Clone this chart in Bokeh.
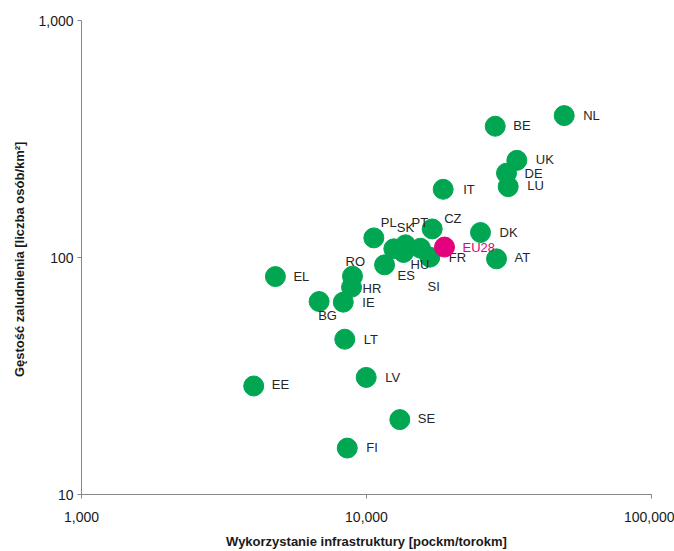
from bokeh.plotting import figure
from bokeh.models import ColumnDataSource, FixedTicker, NumeralTickFormatter
from bokeh.embed import file_html
from bokeh.resources import INLINE
from bokeh.core.properties import value

# Rail infrastructure use vs. population density, EU member states (log-log)
countries = ["NL", "BE", "UK", "DE", "LU", "IT", "CZ", "DK", "AT", "PL",
             "SK", "PT", "HU", "SI", "FR", "ES", "RO", "HR", "IE", "BG",
             "EL", "LT", "EE", "LV", "SE", "FI"]
usage = [49400, 28290, 33690, 30990, 31420, 18580, 17000, 25120, 28590, 10610,
         12470, 13710, 13490, 15470, 16680, 11570, 8930, 8860, 8290, 6820,
         4790, 8390, 4020, 9975, 13090, 8560]
density = [397, 358, 257, 227, 199, 194, 132, 127.5, 98.7, 121,
           108.8, 113.1, 105, 109.4, 100.3, 93.1, 83.4, 74.9, 64.8, 65.2,
           83.1, 45.2, 28.7, 31.2, 20.7, 15.7]

eu_label = ["EU28"]
eu_usage = [18780]
eu_density = [110.7]

x_ticks = [1000, 10000, 100000]
y_ticks = [10, 100, 1000]

# label placement (screen pixels, relative to the marker centre)
label_shift = {
    "NL": (19, 0), "BE": (18, -1), "UK": (19, -1), "DE": (18, 0), "LU": (19, -1),
    "IT": (20, 0), "CZ": (12, -10), "DK": (19, 0), "AT": (18, -1), "PL": (7, -15),
    "SK": (3, -21), "PT": (6, -22), "HU": (7, 12), "SI": (7, 38), "FR": (19, 0),
    "ES": (13, 11), "RO": (-7, -15), "HR": (11, 1), "IE": (19, 0), "BG": (-1, 14),
    "EL": (18, 0), "LT": (19, 0), "EE": (18, -1), "LV": (19, 0), "SE": (18, -1),
    "FI": (19, -1),
}

GREEN = "#00A651"
MAGENTA = "#E5007E"
AXIS = "#868686"
FONT = "Liberation Sans, Arial, sans-serif"

p = figure(width=674, height=551, x_axis_type="log", y_axis_type="log",
           x_range=(1000, 100000), y_range=(10, 1000),
           output_backend="svg", toolbar_location=None,
           min_border_left=81, min_border_right=23,
           min_border_top=20, min_border_bottom=56)
p.outline_line_color = None
p.xgrid.visible = False
p.ygrid.visible = False
p.background_fill_color = "white"
p.border_fill_color = "white"

src = ColumnDataSource(dict(
    name=countries, x=usage, y=density,
    dx=[label_shift[c][0] for c in countries],
    dy=[label_shift[c][1] for c in countries],
))
p.scatter("x", "y", source=src, size=20, fill_color=GREEN, line_color=GREEN)
p.text("x", "y", text="name", source=src, x_offset="dx", y_offset="dy",
       text_font=value(FONT), text_font_size="13px", text_color="#262626",
       text_align="left", text_baseline="middle")

eu_src = ColumnDataSource(dict(name=eu_label, x=eu_usage, y=eu_density))
p.scatter("x", "y", source=eu_src, size=20, fill_color=MAGENTA, line_color=MAGENTA)
p.text("x", "y", text="name", source=eu_src, x_offset=18, y_offset=0,
       text_font=value(FONT), text_font_size="13px", text_color=MAGENTA,
       text_align="left", text_baseline="middle")

for ax in (p.xaxis[0], p.yaxis[0]):
    ax.axis_line_color = AXIS
    ax.major_tick_line_color = AXIS
    ax.minor_tick_line_color = None
    ax.major_tick_in = 0
    ax.major_tick_out = 4
    ax.major_label_text_font = FONT
    ax.major_label_text_font_size = "14px"
    ax.major_label_text_color = "#1a1a1a"
    ax.axis_label_text_font = FONT
    ax.axis_label_text_font_size = "13px"
    ax.axis_label_text_font_style = "bold"
    ax.axis_label_text_color = "#1a1a1a"
    ax.formatter = NumeralTickFormatter(format="0,0")

p.xaxis.ticker = FixedTicker(ticks=x_ticks)
p.yaxis.ticker = FixedTicker(ticks=y_ticks)
p.xaxis.major_label_standoff = 13
p.yaxis.major_label_standoff = 4
p.xaxis.axis_label = "Wykorzystanie infrastruktury [pockm/torokm]"
p.yaxis.axis_label = "Gęstość zaludnienia  [liczba osób/km²]"
p.xaxis.axis_label_standoff = 9
p.yaxis.axis_label_standoff = 8

open("out.html", "w").write(file_html(p, INLINE))
